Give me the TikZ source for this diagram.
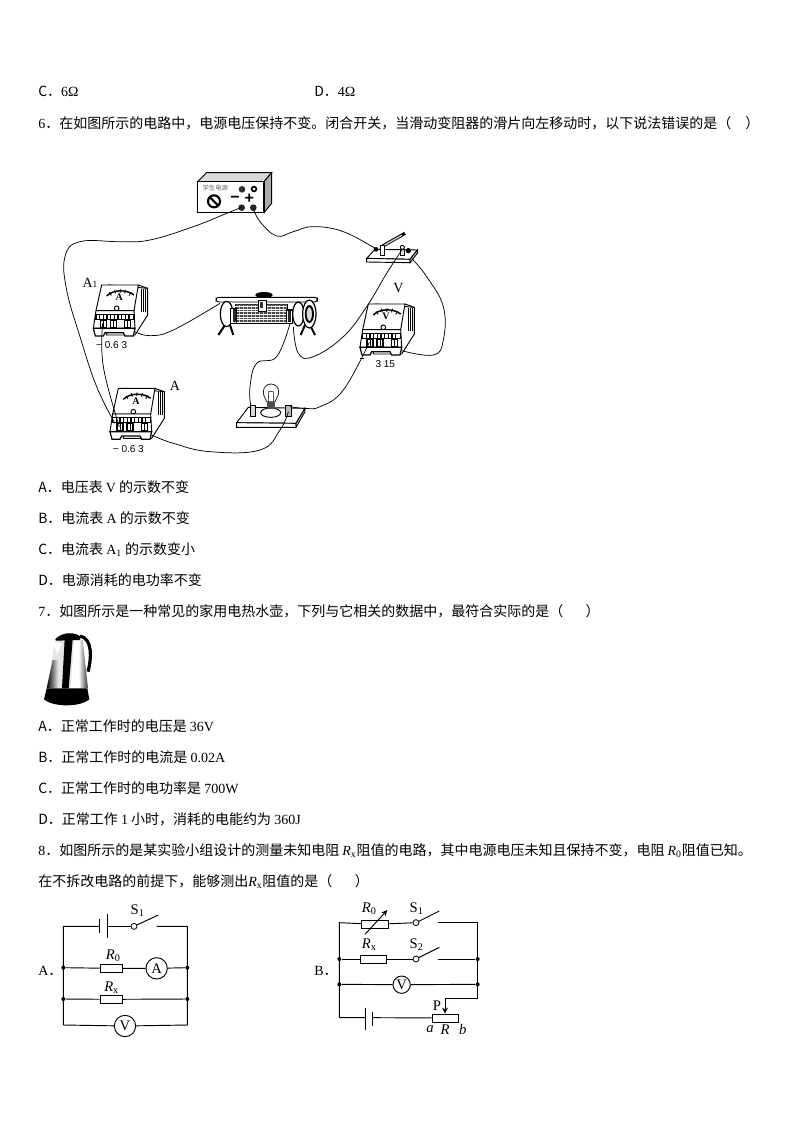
\documentclass[tikz,border=0pt]{standalone}
\usepackage{fontspec}
\setmainfont{Liberation Serif}
\setsansfont{Liberation Sans}
\newfontfamily\cjk{Noto Sans CJK SC}
\newcommand{\lat}[1]{{\rmfamily #1}}
\newcommand{\fsz}[1]{\fontsize{#1}{#1}\selectfont}
\usetikzlibrary{calc}
\usetikzlibrary{arrows.meta}
\tikzset{
  txt/.style={anchor=base west, inner sep=0, font=\cjk\fsz{10.5}},
  wire/.style={black, line width=.55pt},
  ln/.style={black, line width=.7pt},
  dot/.style={circle, fill=black, inner sep=0, minimum size=3pt},
  res/.style={draw, fill=white, line width=.7pt, inner sep=0, minimum width=17pt, minimum height=6pt},
  mtr/.style={draw, fill=white, circle, line width=.7pt, inner sep=0, minimum size=16pt, font=\fsz{11}},
  lbl/.style={inner sep=0, font=\fsz{11}},
  tag/.style={inner sep=0, font=\fsz{10.5}},
  scl/.style={inner sep=0, font=\sffamily\fsz{7.5}},
  contact/.style={draw, fill=white, circle, line width=.6pt, inner sep=0, minimum size=4.5pt},
  pics/meter/.style={code={
    \draw[ln, fill=white] (45,0)--(163,10)--(163,90)--(125,150)--(40,150)--cycle;
    \draw[ln, fill=white] (25,0)--(135,0)--(122,77)--(8,77)--cycle;
    \draw[ln] (135,0)--(163,10);
    \foreach \x in {144,150,156} { \draw[black, line width=.6pt] (\x,12)--(\x,80); }
    \draw[black, line width=1.1pt] (40,33) .. controls (60,13) and (100,13) .. (122,30);
    \foreach \x/\y in {48/22,64/14,81/12,98/14,114/22} { \draw[black, line width=.6pt] (\x,\y)--($(\x,\y)!.2!(78,70)$); }
    \node (-dial) [inner sep=0, font=\bfseries\fsz{7.5}] at (78,38) {#1};
    \draw[black, line width=.7pt] (70,70) circle (7);
    \draw[ln, fill=white] (8,77)--(122,77)--(125,130)--(0,130)--cycle;
    \draw[black, line width=1pt, fill=white] (8,88) rectangle (122,103);
    \foreach \x in {19,30,...,111} { \draw[black, line width=.8pt] (\x,88)--(\x,103); }
    \foreach \x in {30,60,103} { \draw[black, line width=.8pt, fill=white] (\x-9,106) rectangle (\x+9,128); \draw[black, line width=.6pt] (\x,108)--(\x,128); }
    \draw[black, line width=.9pt, fill=white] (0,130)--(125,130)--(120,153)--(95,153)--(90,143)--(35,143)--(30,153)--(6,153)--cycle;
    \coordinate (-neg) at (28,115);
    \coordinate (-pos) at (125,140);
  }}
}
\begin{document}
\begin{tikzpicture}[x=.75pt, y=-.75pt]
\useasboundingbox (0,0) rectangle (794,1123);

% text lines
\node[txt] (optC) at (38,96.5) {C．\lat{6Ω}};
\node[txt] (optD) at (314,96.5) {D．\lat{4Ω}};
\node[txt] (q6) at (38,128.5) {\lat{6}．在如图所示的电路中，电源电压保持不变。闭合开关，当滑动变阻器的滑片向左移动时，以下说法错误的是（\hspace{1em}）};
\node[txt] (q6a) at (38,492.5) {A．电压表 \lat{V} 的示数不变};
\node[txt] (q6b) at (38,523.5) {B．电流表 \lat{A} 的示数不变};
\node[txt] (q6c) at (38,554.5) {C．电流表 \lat{A\textsubscript{1}} 的示数变小};
\node[txt] (q6d) at (38,585.5) {D．电源消耗的电功率不变};
\node[txt] (q7) at (38,616.5) {\lat{7}．如图所示是一种常见的家用电热水壶，下列与它相关的数据中，最符合实际的是（\hspace{1.6em}）};
\node[txt] (q7a) at (38,731.5) {A．正常工作时的电压是 \lat{36V}};
\node[txt] (q7b) at (38,762.5) {B．正常工作时的电流是 \lat{0.02A}};
\node[txt] (q7c) at (38,793.5) {C．正常工作时的电功率是 \lat{700W}};
\node[txt] (q7d) at (38,824.5) {D．正常工作 \lat{1} 小时，消耗的电能约为 \lat{360J}};
\node[txt] (q8) at (38,855.5) {\lat{8}．如图所示的是某实验小组设计的测量未知电阻 \lat{\textit{R}\textsubscript{x}}阻值的电路，其中电源电压未知且保持不变，电阻 \lat{\textit{R}\textsubscript{0}}阻值已知。};
\node[txt] (q8b) at (38,886.5) {在不拆改电路的前提下，能够测出\lat{\textit{R}\textsubscript{x}}阻值的是（\hspace{1.6em}）};

% apparatus
\begin{scope}[shift={(60,160)}, x=.25pt, y=-.25pt]
% supply
\draw[ln, fill=gray!30] (413,65)--(440,38)--(635,38)--(612,65)--cycle;
\draw[ln, fill=gray!65] (612,65)--(635,38)--(635,130)--(612,158)--cycle;
\draw[black, line width=.9pt, fill=white] (413,65) rectangle (612,158);
\node (suplabel) [inner sep=0, text=gray!80!black, font=\cjk\fsz{4.8}] at (466,83) {学生电源};
\draw[black, line width=1.6pt] (462,124) circle (18);
\draw[black, line width=1.6pt] (450,112)--(474,136);
\fill[black!80] (546,88) circle (10);
\draw[black, line width=1.3pt] (582,87) circle (7);
\node (supminus) [inner sep=0, font=\sffamily\bfseries\fsz{12}] at (525,117) {−};
\node (supplus) [inner sep=0, font=\sffamily\bfseries\fsz{12}] at (568,115) {+};
\fill[black!85] (545,143) circle (10);
\fill[black!85] (580,143) circle (10);
\coordinate (supneg) at (545,142);
\coordinate (suppos) at (580,145);

% switch
\draw[ln, fill=white] (945,268)--(1072,270)--(1050,298)--(920,295)--cycle;
\draw[ln, fill=white] (920,295)--(1050,298)--(1050,308)--(920,306)--cycle;
\draw[ln, fill=gray!30] (1072,270)--(1072,280)--(1050,308)--(1050,298)--cycle;
\draw[black, line width=2.4pt] (968,258)--(1035,220);
\draw[gray!40, line width=1pt] (972,256)--(1025,226);
\draw[ln, fill=white] (960,256) rectangle (973,285);
\draw[ln, fill=gray!20] (1021,268) rectangle (1033,285);
\draw[ln, fill=white] (1027,262) circle (6);
\fill[black] (948,268) circle (7);
\fill[black] (1045,272) circle (8);
\coordinate (swin) at (950,268);
\coordinate (swpost) at (1027,268);
\coordinate (swout) at (1055,295);

% rheostat
\draw[black, line width=1.5pt] (495,495)--(475,525);
\draw[black, line width=1.5pt] (510,495)--(520,525);
\draw[black, line width=1.5pt] (735,495)--(722,525);
\draw[black, line width=1.5pt] (750,495)--(765,525);
\draw[ln, fill=white, rounded corners=2pt] (468,412) rectangle (772,426);
\draw[ln, fill=gray!55] (525,432) rectangle (682,490);
\foreach \x in {528,532,...,680} {
 \draw[black!70, line width=.3pt] (\x,432)--(\x,490);
}
\foreach \y in {438,446,...,486} {
 \draw[white, line width=.12pt] (525,\y)--(682,\y);
}
\draw[black, line width=.9pt, fill=white] (500,462) ellipse (19 and 38);
\draw[black, line width=.9pt, fill=white] (512,445) rectangle (530,490);
\fill[black!85] (518,448) rectangle (528,486);
\draw[black, line width=.9pt, fill=white] (715,462) ellipse (17 and 36);
\draw[black, line width=.9pt, fill=white] (680,450) rectangle (698,490);
\fill[black!85] (684,452) rectangle (694,486);
\draw[black, line width=.9pt, fill=white] (748,462) ellipse (20 and 42);
\draw[black, line width=1.4pt, fill=gray!30] (748,462) ellipse (11 and 24);
\draw[ln, fill=white] (595,420) rectangle (618,455);
\fill[black!80] (600,425) rectangle (610,445);
\fill[black] (612,405) ellipse (26 and 9);
\coordinate (rhleft) at (480,430);
\coordinate (rhmid) at (690,490);
\coordinate (rhright) at (700,500);

% lamp
\draw[ln, fill=white] (565,742)--(735,745)--(708,790)--(530,788)--cycle;
\draw[ln, fill=white] (530,788)--(708,790)--(708,802)--(530,802)--cycle;
\draw[ln, fill=gray!30] (735,745)--(735,755)--(708,802)--(708,790)--cycle;
\draw[ln, fill=white] (632,758) ellipse (30 and 14);
\draw[black!85, line width=.6pt, fill=white] (620,725) .. controls (615,712) and (610,708) .. (610,695) arc (180:360:23) .. controls (656,708) and (650,712) .. (645,725) -- cycle;
\draw[black, line width=.4pt] (625,725)--(626,695)--(640,695)--(640,725);
\fill[black!70] (620,725) rectangle (645,748);
\draw[ln, fill=gray!30] (570,735) rectangle (587,768);
\draw[ln, fill=gray!55] (677,735) rectangle (694,768);
\coordinate (lpleft) at (572,735);
\coordinate (lpright) at (690,740);
\coordinate (lpfront) at (685,755);

% meters
\pic (mAone) at (100,375) {meter=A};
\pic (mAtwo) at (150,685) {meter=A};
\pic (mV) at (900,432) {meter=V};
\node (tagAone) [tag] at (90,369) {A\raisebox{-.1ex}{\fsz{7}1}};
\node (tagAtwo) [tag] at (345,677) {A};
\node (tagV) [tag] at (1015,383) {V};
\node (sclAone) [scl] at (155,554) {− 0.6 3};
\node (sclAtwo) [scl] at (205,866) {− 0.6 3};
\node (sclV) [scl] at (976,613) {3 15};
\draw[black, line width=.5pt] (900,594)--(912,594);

% wires
\draw[wire] plot[smooth, tension=.7] coordinates {(supneg) (500,160) (400,200) (270,240) (180,245) (60,245) (15,290) (20,390) (60,530) (110,680) (165,790)};
\draw[wire] plot[smooth, tension=.7] coordinates {(suppos) (600,185) (650,228) (700,215) (760,200) (850,215) (swin)};
\draw[wire] plot[smooth, tension=.7] coordinates {(swpost) (980,340) (920,440) (850,530) (760,590) (715,580) (rhright)};
\draw[wire] plot[smooth, tension=.7] coordinates {(swout) (1100,350) (1150,440) (1150,540) (1120,585) (mV-pos)};
\draw[wire] plot[smooth, tension=.7] coordinates {(mAone-pos) (270,527) (340,510) (rhleft)};
\draw[wire] plot[smooth, tension=.7] coordinates {(rhmid) (650,590) (590,610) (570,680) (lpleft)};
\draw[wire] plot[smooth, tension=.7] coordinates {(lpright) (735,745) (780,740) (850,690) (mV-neg)};
\draw[wire] plot[smooth, tension=.7] coordinates {(mAtwo-pos) (340,850) (450,875) (600,870) (660,810) (lpfront)};
\draw[wire] plot[smooth, tension=.7] coordinates {(mAone-neg) (130,620) (mAtwo-neg)};
\end{scope}

% kettle
\begin{scope}[shift={(30,620)}, x=.25pt, y=-.25pt]
\draw[black, line width=2.4pt] (150,48) .. controls (188,55) and (185,115) .. (174,155);
\fill[gray!20] (78,52)--(150,52)--(172,205)--(50,205)--cycle;
\shade[left color=black, right color=white] (68,120)--(85,120)--(88,205)--(50,205)--cycle;
\fill[white] (132,60)--(146,60)--(150,205)--(122,205)--cycle;
\shade[left color=white, right color=black!80] (146,60)--(158,60)--(174,205)--(150,205)--cycle;
\fill[black] (104,58)--(128,58)--(116,205)--(96,205)--cycle;
\fill[white] (66,66)--(96,70)--(82,102)--cycle;
\fill[black] (76,58) .. controls (95,35) and (135,35) .. (152,50)--(150,60)--(78,62)--cycle;
\fill[black] (50,205)--(172,205)--(178,238) .. controls (150,262) and (70,262) .. (42,238)--cycle;
\end{scope}

% circuit A
\begin{scope}[shift={(30,895)}, x=.25pt, y=-.25pt]
\coordinate (tlA) at (100,94);
\coordinate (trA) at (472,94);
\coordinate (blA) at (100,390);
\coordinate (brA) at (472,390);
\coordinate (batsA) at (209,94);
\coordinate (batlA) at (232,94);
\coordinate (swendA) at (380,94);
\node (dotAl) [dot] at (100,218) {};
\node (dotAr) [dot] at (472,218) {};
\node (dotBl) [dot] at (100,312) {};
\node (dotBr) [dot] at (472,312) {};
\node (RzeroA) [res] at (244,220) {};
\node (RxA) [res] at (244,313) {};
\node (mAA) [mtr] at (380,220) {A};
\node (mVA) [mtr] at (285,393) {V};
\node (SoneA) [contact] at (312,94) {};
\draw[ln] (swendA)--(trA)--(brA)--(mVA)--(blA)--(tlA)--(batsA);
\draw[ln] (batlA)--(SoneA);
\draw[ln] (dotAl)--(RzeroA)--(mAA)--(dotAr);
\draw[ln] (dotBl)--(RxA)--(dotBr);
\draw[black, line width=.7pt] (209,72)--(209,114);
\draw[black, line width=.7pt] (232,57)--(232,129);
\draw[ln] (SoneA)--(385,60);
\node (lblS) [lbl] at (323,47) {S\textsubscript{1}};
\node (lblR) [lbl] at (250,182) {\textit{R}\textsubscript{0}};
\node (lblRx) [lbl] at (245,278) {\textit{R}\textsubscript{x}};
\node (lblA) [txt] at (24,241) {\lat{A}．};
\end{scope}

% circuit B
\begin{scope}[shift={(310,895)}, x=.25pt, y=-.25pt]
\coordinate (tlB) at (88,83);
\coordinate (trB) at (503,83);
\coordinate (swendB) at (383,83);
\coordinate (swendC) at (383,192);
\coordinate (blB) at (88,368);
\coordinate (batsB) at (167,368);
\coordinate (batlB) at (188,368);
\coordinate (brB) at (503,310);
\coordinate (Pcor) at (405,310);
\node (dot1l) [dot] at (88,192) {};
\node (dot1r) [dot] at (503,192) {};
\node (dot2l) [dot] at (88,268) {};
\node (dot2r) [dot] at (503,268) {};
\node (RzeroB) [res, minimum width=20pt] at (195,88) {};
\node (RxB) [res, minimum width=19.5pt] at (191,192) {};
\node (mVB) [mtr, minimum size=13pt] at (275,269) {V};
\node (SoneB) [contact] at (318,83) {};
\node (StwoB) [contact] at (318,192) {};
\node (RB) [res, minimum width=20pt] at (406,369) {};
\draw[ln] (swendB)--(trB)--(brB)--(Pcor);
\draw[ln] (batsB)--(blB)--(tlB)--(RzeroB)--(SoneB);
\draw[ln] (swendC)--(dot1r);
\draw[ln] (dot1l)--(RxB)--(StwoB);
\draw[ln] (dot2l)--(mVB)--(dot2r);
\draw[ln] (batlB)--(RB);
\draw[black, line width=.7pt] (167,338)--(167,405);
\draw[black, line width=.7pt] (188,350)--(188,392);
\draw[ln] (SoneB)--(388,48);
\draw[ln] (StwoB)--(388,157);
\draw[ln, -{Stealth[length=4.5pt,width=4.5pt]}] (Pcor)--(RB.north -| Pcor);
\draw[ln, -{Stealth[length=4.5pt,width=4pt]}] (165,118)--(232,45);
\node (lblRB) [lbl] at (178,42) {\textit{R}\textsubscript{0}};
\node (lblS1) [lbl] at (320,40) {S\textsubscript{1}};
\node (lblRxB) [lbl] at (178,148) {\textit{R}\textsubscript{x}};
\node (lblS2) [lbl] at (320,148) {S\textsubscript{2}};
\node (lblP) [lbl] at (381,333) {P};
\node (lbla) [lbl] at (360,402) {\textit{a}};
\node (lblRr) [lbl] at (405,404) {\textit{R}};
\node (lblb) [lbl] at (458,402) {\textit{b}};
\node (lblB) [txt] at (12,241) {\lat{B}．};
\end{scope}
\end{tikzpicture}
\end{document}
